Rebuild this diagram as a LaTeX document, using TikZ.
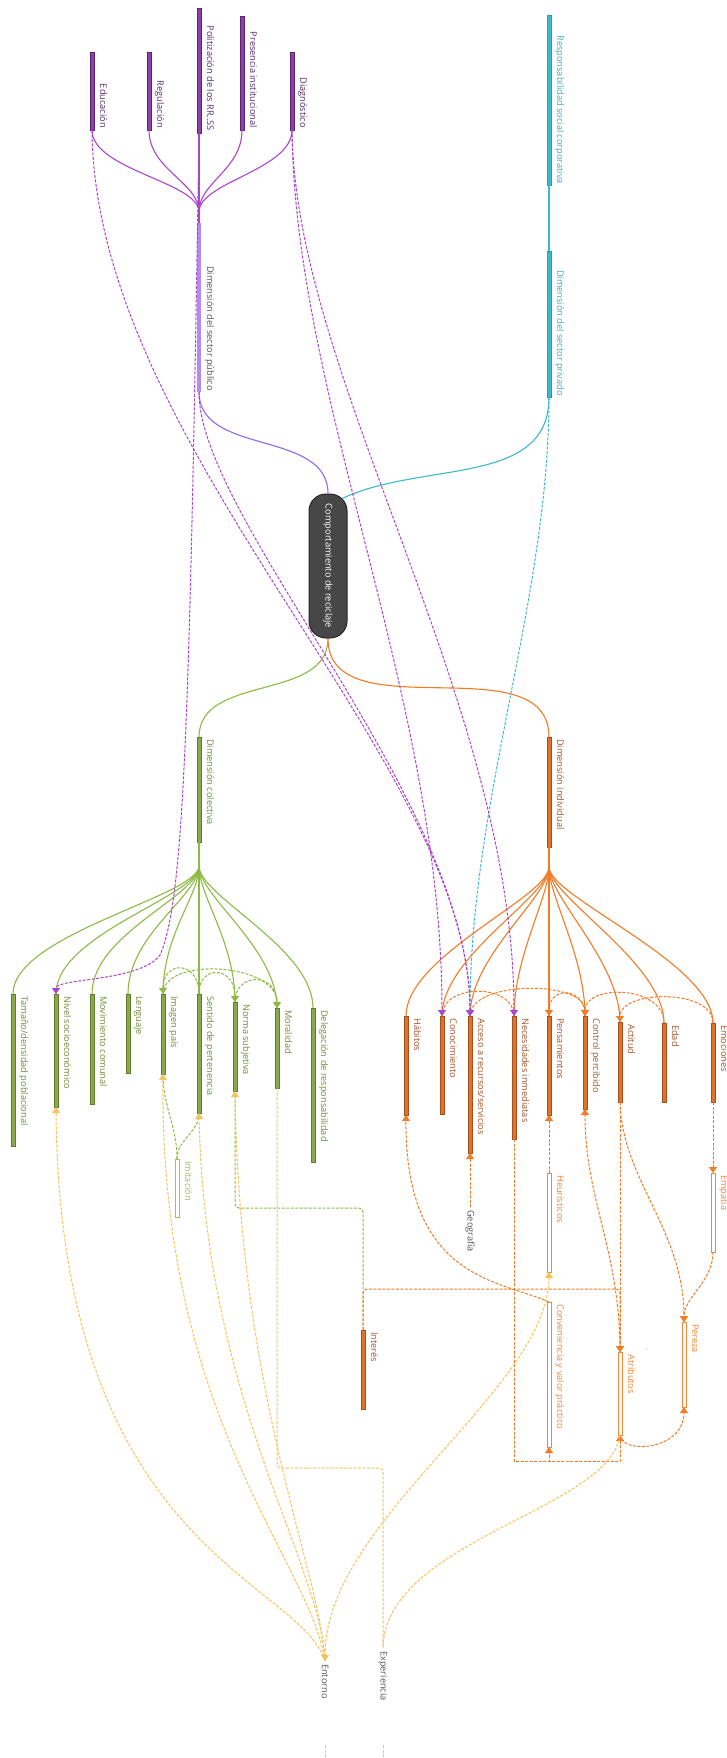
\documentclass[tikz,border=0pt]{standalone}
\usepackage{fontspec}
\setmainfont{Open Sans}
\usetikzlibrary{positioning,calc,arrows.meta}

\definecolor{purpbar}{HTML}{8E3FA8}
\definecolor{purpedge}{HTML}{5C2470}
\definecolor{purpline}{HTML}{AA45CC}
\definecolor{purptext}{HTML}{5A2D70}
\definecolor{lilac}{HTML}{B48AF2}
\definecolor{violetline}{HTML}{8A6AF0}
\definecolor{tealbar}{HTML}{3DB9CB}
\definecolor{tealedge}{HTML}{2A9BAD}
\definecolor{tealtext}{HTML}{3AAFC2}
\definecolor{rootgray}{HTML}{474747}
\definecolor{greenbar}{HTML}{8AA84C}
\definecolor{greenedge}{HTML}{5E7E2E}
\definecolor{greenline}{HTML}{8DBA44}
\definecolor{greentext}{HTML}{6F8F3A}
\definecolor{greenlight}{HTML}{9CC55C}
\definecolor{orangebar}{HTML}{E0722A}
\definecolor{orangeedge}{HTML}{A8501C}
\definecolor{orangeline}{HTML}{F47B26}
\definecolor{orangetext}{HTML}{A4562A}
\definecolor{orangelight}{HTML}{F2883A}
\definecolor{yellowline}{HTML}{F5C25C}
\definecolor{graytext}{HTML}{555555}

\begin{document}
\begin{tikzpicture}[x=1pt, y=-1pt, font=\fontsize{9.2}{11}\selectfont,
    barbase/.style={rectangle, minimum width=4.4pt, inner sep=0pt, outer sep=0pt, line width=0.6pt},
    pbar/.style={barbase, draw=purpedge, fill=purpbar},
    lbar/.style={barbase, fill=lilac},
    tbar/.style={barbase, draw=tealedge, fill=tealbar},
    gbar/.style={barbase, draw=greenedge, fill=greenbar},
    obar/.style={barbase, draw=orangeedge, fill=orangebar},
    ghol/.style={barbase, draw=greenlight, fill=white},
    ohol/.style={barbase, draw=orangelight, fill=white},
    toplab/.style={rotate=-90, anchor=base east, inner sep=0pt},
    lowlab/.style={rotate=-90, anchor=base west, inner sep=0pt},
    freelab/.style={rotate=-90, anchor=west, inner sep=3pt, text=graytext},
    rootbox/.style={rectangle, rotate=-90, rounded corners=17pt, minimum width=144pt, minimum height=38pt, fill=rootgray, draw=black!85, line width=1pt, text=white},
    pline/.style={draw=purpline, line width=1.1pt},
    gline/.style={draw=greenline, line width=1.1pt},
    oline/.style={draw=orangeline, line width=1.1pt},
    tline/.style={draw=tealbar, line width=1.1pt},
    dashline/.style={line width=1pt, dash pattern=on 3pt off 1.5pt},
    pdash/.style={dashline, draw=purpline},
    tdash/.style={dashline, draw=tealbar},
    gdash/.style={dashline, draw=greenline},
    odash/.style={dashline, draw=orangeline},
    ydash/.style={dashline, draw=yellowline},
    arr/.style={-{Triangle[width=8pt,length=6pt]}},
    dblarr/.style={{Triangle[width=8pt,length=6pt]}-{Triangle[width=8pt,length=6pt]}}]

    \useasboundingbox (0,0) rectangle (726,1758);

    \node[pbar, minimum height=78pt] (edu) at (92,91) {};
    \node[toplab, text=purptext] (edu-t) at ([xshift=8pt,yshift=2pt]edu.south) {Educación};
    \node[pbar, minimum height=78pt] (regul) at (149,91) {};
    \node[toplab, text=purptext] (regul-t) at ([xshift=8pt,yshift=2pt]regul.south) {Regulación};
    \node[pbar, minimum height=125pt] (polit) at (199,70.5) {};
    \node[toplab, text=purptext] (polit-t) at ([xshift=8pt,yshift=2pt]polit.south) {Politización de los RR..SS};
    \node[pbar, minimum height=114pt] (presen) at (242,73) {};
    \node[toplab, text=purptext] (presen-t) at ([xshift=8pt,yshift=2pt]presen.south) {Presencia institucional};
    \node[pbar, minimum height=78pt] (diagn) at (292,91) {};
    \node[toplab, text=purptext] (diagn-t) at ([xshift=8pt,yshift=2pt]diagn.south) {Diagnóstico};
    \coordinate (pubhub) at (199,212);
    \node[lbar, minimum height=169pt] (pubdim) at (199,307.5) {};
    \node[toplab, text=graytext] (pubdim-t) at ([xshift=8pt,yshift=1pt]pubdim.south) {Dimensión del sector público};

    \node[tbar, minimum height=170pt] (rsc) at (549,100) {};
    \node[toplab, text=tealtext] (rsc-t) at ([xshift=8pt,yshift=1pt]rsc.south) {Responsabilidad social corporativa};
    \node[tbar, minimum height=146pt] (privdim) at (549,324) {};
    \node[toplab, text=tealtext] (privdim-t) at ([xshift=8pt,yshift=1pt]privdim.south) {Dimensión del sector privado};

    \node[rootbox] (root) at (328,566) {Comportamiento de reciclaje};

    \node[gbar, minimum height=105pt] (coldim) at (199,789.5) {};
    \node[lowlab, text=greentext] (coldim-t) at ([xshift=8pt,yshift=-2pt]coldim.north) {Dimensión colectiva};
    \coordinate (colhub) at (199,866);
    \node[gbar, minimum height=152pt] (tamano) at (13,1070) {};
    \node[lowlab, text=greentext] (tamano-t) at ([xshift=8pt,yshift=-2pt]tamano.north) {Tamaño/densidad poblacional};
    \node[gbar, minimum height=113pt] (nivel) at (56,1050.5) {};
    \node[lowlab, text=greentext] (nivel-t) at ([xshift=8pt,yshift=-2pt]nivel.north) {Nivel socioeconómico};
    \node[gbar, minimum height=110pt] (movim) at (92,1049) {};
    \node[lowlab, text=greentext] (movim-t) at ([xshift=8pt,yshift=-2pt]movim.north) {Movimiento comunal};
    \node[gbar, minimum height=79pt] (lengu) at (128,1033.5) {};
    \node[lowlab, text=greentext] (lengu-t) at ([xshift=8pt,yshift=-2pt]lengu.north) {Lenguaje};
    \node[gbar, minimum height=80pt] (imagen) at (163,1034) {};
    \node[lowlab, text=greentext] (imagen-t) at ([xshift=8pt,yshift=-2pt]imagen.north) {Imagen país};
    \node[gbar, minimum height=119pt] (sentido) at (199,1053.5) {};
    \node[lowlab, text=greentext] (sentido-t) at ([xshift=8pt,yshift=-2pt]sentido.north) {Sentido de pertenencia};
    \node[gbar, minimum height=89pt] (norma) at (235,1046.5) {};
    \node[lowlab, text=greentext] (norma-t) at ([xshift=8pt,yshift=-2pt]norma.north) {Norma subjetiva};
    \node[gbar, minimum height=80pt] (moral) at (277,1048) {};
    \node[lowlab, text=greentext] (moral-t) at ([xshift=8pt,yshift=-2pt]moral.north) {Moralidad};
    \node[gbar, minimum height=154pt] (deleg) at (313,1085) {};
    \node[lowlab, text=greentext] (deleg-t) at ([xshift=8pt,yshift=-2pt]deleg.north) {Delegación de responsabilidad};
    \node[ghol, minimum height=58pt] (imit) at (177,1188) {};
    \node[lowlab, text=greenlight] (imit-t) at ([xshift=8pt,yshift=-2pt]imit.north) {Imitación};

    \node[obar, minimum height=110pt] (inddim) at (549,792) {};
    \node[lowlab, text=orangetext] (inddim-t) at ([xshift=8pt,yshift=-2pt]inddim.north) {Dimensión individual};
    \coordinate (indhub) at (549,867);
    \node[obar, minimum height=99pt] (habit) at (406,1065.5) {};
    \node[lowlab, text=orangetext] (habit-t) at ([xshift=8pt,yshift=-2pt]habit.north) {Hábitos};
    \node[obar, minimum height=98pt] (conoc) at (442,1065) {};
    \node[lowlab, text=orangetext] (conoc-t) at ([xshift=8pt,yshift=-2pt]conoc.north) {Conocimiento};
    \node[obar, minimum height=137pt] (acceso) at (470,1084.5) {};
    \node[lowlab, text=orangetext] (acceso-t) at ([xshift=8pt,yshift=-2pt]acceso.north) {Acceso a recursos/servicios};
    \node[obar, minimum height=123pt] (neces) at (514,1077.5) {};
    \node[lowlab, text=orangetext] (neces-t) at ([xshift=8pt,yshift=-2pt]neces.north) {Necesidades inmediatas};
    \node[obar, minimum height=99pt] (pensa) at (549,1065.5) {};
    \node[lowlab, text=orangetext] (pensa-t) at ([xshift=8pt,yshift=-2pt]pensa.north) {Pensamientos};
    \node[obar, minimum height=93pt] (ctrl) at (585,1062.5) {};
    \node[lowlab, text=orangetext] (ctrl-t) at ([xshift=8pt,yshift=-2pt]ctrl.north) {Control percibido};
    \node[obar, minimum height=80pt] (actit) at (620,1062) {};
    \node[lowlab, text=orangetext] (actit-t) at ([xshift=8pt,yshift=-2pt]actit.north) {Actitud};
    \node[obar, minimum height=79pt] (edad) at (664,1062.5) {};
    \node[lowlab, text=orangetext] (edad-t) at ([xshift=8pt,yshift=-2pt]edad.north) {Edad};
    \node[obar, minimum height=79pt] (emoc) at (713,1062.5) {};
    \node[lowlab, text=orangetext] (emoc-t) at ([xshift=8pt,yshift=-2pt]emoc.north) {Emociones};
    \node[ohol, minimum height=99pt] (heur) at (549,1222.5) {};
    \node[lowlab, text=orangelight] (heur-t) at ([xshift=8pt,yshift=-2pt]heur.north) {Heurísticos};
    \node[ohol, minimum height=145pt] (convn) at (549,1374.5) {};
    \node[lowlab, text=orangelight] (convn-t) at ([xshift=8pt,yshift=-2pt]convn.north) {Conveniencia y valor práctico};
    \node[ohol, minimum height=79pt] (empat) at (713,1212.5) {};
    \node[lowlab, text=orangelight] (empat-t) at ([xshift=8pt,yshift=-2pt]empat.north) {Empatía};
    \node[ohol, minimum height=85pt] (pereza) at (684,1364.5) {};
    \node[lowlab, text=orangelight] (pereza-t) at ([xshift=8pt,yshift=-2pt]pereza.north) {Pereza};
    \node[ohol, minimum height=83pt] (atrib) at (620,1393.5) {};
    \node[lowlab, text=orangelight] (atrib-t) at ([xshift=8pt,yshift=-2pt]atrib.north) {Atributos};
    \node[obar, minimum height=79pt] (interes) at (363,1369.5) {};
    \node[lowlab, text=orangetext] (interes-t) at ([xshift=8pt,yshift=-2pt]interes.north) {Interés};
    \node[font=\tiny, inner sep=0pt] (dot) at (647,1349) {.};

    \node[freelab] (geog) at (470,1207) {Geografía};
    \node[freelab] (entorno) at (325,1661) {Entorno};
    \node[freelab] (exper) at (383,1648) {Experiencia};

    \coordinate (intbend) at (620,1289);
    \coordinate (normbend) at (363,1208);
    \coordinate (boxleft) at (549,1461);
    \coordinate (boxright) at (620,1461);
    \coordinate (expbend) at (383,1468);
    \coordinate (entcut) at (325,1745);
    \coordinate (entend) at (325,1760);
    \coordinate (expcut) at (383,1745);
    \coordinate (expend) at (383,1760);

    \draw[pline] (edu.south) .. controls +(0,40) and +(0,-30) .. (pubhub);
    \draw[pline] (regul.south) .. controls +(0,40) and +(0,-30) .. (pubhub);
    \draw[pline] (polit.south) -- (pubhub);
    \draw[pline] (presen.south) .. controls +(0,40) and +(0,-30) .. (pubhub);
    \draw[pline] (diagn.south) .. controls +(0,40) and +(0,-30) .. (pubhub);
    \draw[pline] (pubhub) -- (pubdim.north);
    \draw[draw=violetline, line width=1.1pt] (pubdim.south) to[out=-90, in=90] (root.west);
    \draw[tline] (rsc.south) -- (privdim.north);
    \draw[tline] (privdim.south) to[out=-90, in=25] ([xshift=14pt,yshift=-5pt]root.west);
    \draw[gline] (root.east) to[out=-90, in=90] (coldim.north);
    \draw[oline] (root.east) to[out=-90, in=90] (inddim.north);

    \draw[gline] (coldim.south) -- (colhub);
    \draw[gline] (colhub) .. controls +(0,30) and +(0,-60) .. (tamano.north);
    \draw[gline] (colhub) .. controls +(0,30) and +(0,-60) .. (nivel.north);
    \draw[gline] (colhub) .. controls +(0,30) and +(0,-60) .. (movim.north);
    \draw[gline] (colhub) .. controls +(0,30) and +(0,-60) .. (lengu.north);
    \draw[gline] (colhub) .. controls +(0,30) and +(0,-60) .. (imagen.north);
    \draw[gline] (colhub) -- (sentido.north);
    \draw[gline] (colhub) .. controls +(0,30) and +(0,-60) .. (norma.north);
    \draw[gline] (colhub) .. controls +(0,30) and +(0,-60) .. (moral.north);
    \draw[gline] (colhub) .. controls +(0,30) and +(0,-60) .. (deleg.north);

    \draw[oline] (inddim.south) -- (indhub);
    \draw[oline] (indhub) .. controls +(0,30) and +(0,-60) .. (habit.north);
    \draw[oline] (indhub) .. controls +(0,30) and +(0,-60) .. (conoc.north);
    \draw[oline] (indhub) .. controls +(0,30) and +(0,-60) .. (acceso.north);
    \draw[oline] (indhub) .. controls +(0,30) and +(0,-60) .. (neces.north);
    \draw[oline] (indhub) -- (pensa.north);
    \draw[oline] (indhub) .. controls +(0,30) and +(0,-60) .. (ctrl.north);
    \draw[oline] (indhub) .. controls +(0,30) and +(0,-60) .. (actit.north);
    \draw[oline] (indhub) .. controls +(0,30) and +(0,-60) .. (edad.north);
    \draw[oline] (indhub) .. controls +(0,30) and +(0,-60) .. (emoc.north);

    \draw[gdash, arr] (sentido.north) .. controls +(0,-34) and +(0,-34) .. (imagen.north);
    \draw[gdash, arr] (imagen.north) .. controls +(0,-38) and +(0,-45) .. (moral.north);
    \draw[gdash, arr] (sentido.north) .. controls +(0,-30) and +(0,-36) .. (norma.north);
    \draw[gdash, arr] (norma.north) .. controls +(0,-30) and +(0,-36) .. (moral.north);
    \draw[gdash] (imit.north) to[out=90, in=-90] (imagen.south);
    \draw[gdash] (imit.north) to[out=90, in=-90] (sentido.south);
    \draw[gdash, rounded corners=4pt] (norma.south) |- (normbend) -- (interes.north);

    \draw[odash] (conoc.north) .. controls +(0,-33) and +(0,-33) .. (neces.north);
    \draw[odash, arr] (acceso.north) .. controls +(0,-36) and +(0,-36) .. (ctrl.north);
    \draw[odash, arr] (ctrl.north) .. controls +(0,-30) and +(0,-30) .. (pensa.north);
    \draw[odash, arr] (edad.north) .. controls +(0,-38) and +(0,-32) .. (ctrl.north);
    \draw[odash, arr] (emoc.north) .. controls +(0,-35) and +(0,-32) .. (actit.north);
    \draw[odash, arr] (geog.west) -- (acceso.south);
    \draw[odash, arr] (heur.north) -- (pensa.south);
    \draw[odash, arr] (emoc.south) -- (empat.north);
    \draw[odash, arr] (empat.south) .. controls +(0,30) and +(0,-25) .. (pereza.north);
    \draw[odash, arr] (actit.south) .. controls (622,1180) and (684,1230) .. (pereza.north);
    \draw[odash, arr] (actit.south) -- (atrib.north);
    \draw[odash, arr] (atrib.north) .. controls (620,1250) and (585,1200) .. (ctrl.south);
    \draw[odash, arr, rounded corners=4pt] (interes.north) |- (intbend) -- (atrib.north);
    \draw[odash, arr] (convn.north) .. controls (500,1280) and (405,1280) .. (habit.south);
    \draw[odash, arr] (neces.south) |- (boxleft) -- (convn.south);
    \draw[odash, arr] (neces.south) |- (boxright) -- (atrib.south);
    \draw[odash, arr] (atrib.south) .. controls (622,1455) and (684,1450) .. (pereza.south);

    \draw[ydash, arr] (entorno.west) .. controls (300,1580) and (60,1550) .. (nivel.south);
    \draw[ydash, arr] (entorno.west) .. controls (310,1560) and (160,1420) .. (imagen.south);
    \draw[ydash, arr] (entorno.west) .. controls (320,1560) and (205,1400) .. (sentido.south);
    \draw[ydash, arr] (entorno.west) .. controls (320,1570) and (240,1400) .. (norma.south);
    \draw[ydash, dblarr] (entorno.west) .. controls (325,1520) and (548,1390) .. (heur.south);
    \draw[ydash, rounded corners=4pt] (moral.south) |- (expbend) -- (exper.west);
    \draw[ydash] (atrib.south) .. controls (610,1510) and (385,1540) .. (exper.west);
    \draw[ydash] (entcut) -- (entend);
    \draw[ydash] (expcut) -- (expend);

    \draw[tdash, arr] (privdim.south) .. controls (549,600) and (470,800) .. (acceso.north);
    \draw[pdash, arr] (edu.south) .. controls (95,450) and (470,760) .. (acceso.north);
    \draw[pdash, arr] (pubdim.south) .. controls (199,520) and (470,800) .. (acceso.north);
    \draw[pdash, arr] (diagn.south) .. controls (295,400) and (442,700) .. (conoc.north);
    \draw[pdash, arr] (diagn.south) .. controls (295,380) and (514,700) .. (neces.north);
    \draw[pdash, arr] (polit.south) .. controls (190,700) and (185,900) .. (160,955) .. controls (140,982) and (56,978) .. (nivel.north);
\end{tikzpicture}
\end{document}
